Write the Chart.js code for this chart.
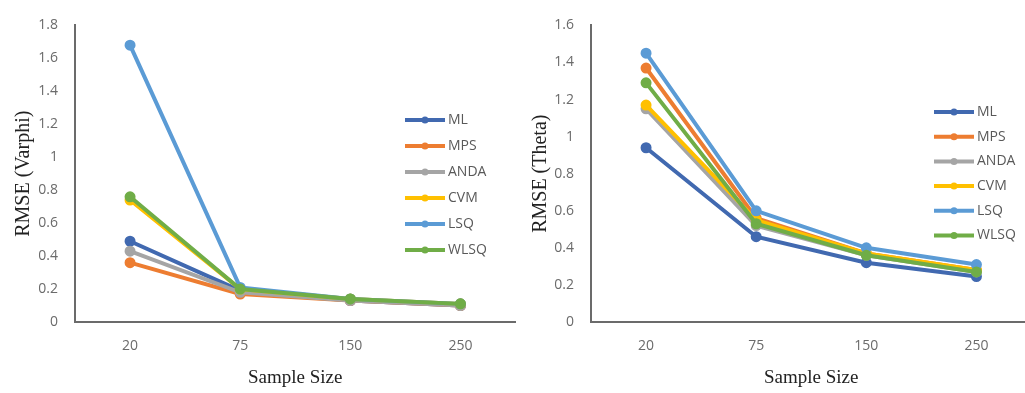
<!DOCTYPE html>
<html>
<head>
<meta charset="utf-8">
<script src="https://cdn.jsdelivr.net/npm/chart.js@4.4.0/dist/chart.umd.min.js"></script>
<style>
    html, body { margin: 0; padding: 0; background: #fff; overflow: hidden; }
    body { width: 1025px; height: 393px; position: relative; }
    .chart-box { position: absolute; top: 0; height: 393px; }
    #varphiBox { left: 0; width: 523px; }
    #thetaBox { left: 512px; width: 527px; }
</style>
</head>
<body>
<div class="chart-box" id="varphiBox"><canvas id="varphiChart"></canvas></div>
<div class="chart-box" id="thetaBox"><canvas id="thetaChart"></canvas></div>
<script>
// sample sizes on the x axis, and the estimation methods (one line each)
const sampleSizes = ['20', '75', '150', '250'];
const methods = ['ML', 'MPS', 'ANDA', 'CVM', 'LSQ', 'WLSQ'];

// RMSE of varphi
const varphiML   = [0.49, 0.19, 0.13, 0.10];
const varphiMPS  = [0.36, 0.17, 0.13, 0.10];
const varphiANDA = [0.43, 0.18, 0.13, 0.10];
const varphiCVM  = [0.74, 0.20, 0.14, 0.11];
const varphiLSQ  = [1.68, 0.21, 0.14, 0.11];
const varphiWLSQ = [0.76, 0.20, 0.14, 0.11];

// RMSE of theta
const thetaML   = [0.94, 0.46, 0.32, 0.245];
const thetaMPS  = [1.37, 0.56, 0.37, 0.28];
const thetaANDA = [1.15, 0.52, 0.36, 0.27];
const thetaCVM  = [1.17, 0.55, 0.37, 0.28];
const thetaLSQ  = [1.45, 0.60, 0.40, 0.31];
const thetaWLSQ = [1.29, 0.53, 0.36, 0.27];

const methodColors = ['#4169b0', '#ed7d31', '#a5a5a5', '#ffc000', '#5b9bd5', '#70ad47'];

// legend drawn inside the plot area, like the Excel original
const sideLegend = {
    id: 'sideLegend',
    afterDatasetsDraw(chart, args, opts) {
        const ctx = chart.ctx;
        ctx.save();
        chart.data.datasets.forEach((ds, i) => {
            const y = opts.y + i * opts.step;
            ctx.strokeStyle = ds.borderColor;
            ctx.lineWidth = 4;
            ctx.beginPath();
            ctx.moveTo(opts.x, y);
            ctx.lineTo(opts.x + 40, y);
            ctx.stroke();
            ctx.fillStyle = ds.borderColor;
            ctx.beginPath();
            ctx.arc(opts.x + 20, y, 3.5, 0, Math.PI * 2);
            ctx.fill();
            ctx.fillStyle = '#595959';
            ctx.font = '14px "Open Sans", sans-serif';
            ctx.textBaseline = 'middle';
            ctx.textAlign = 'left';
            ctx.fillText(ds.label, opts.x + 43, y);
        });
        ctx.restore();
    }
};

function createChart(chartId, series, yMax, yTitle, axisWidth, titlePad, legendPos) {
    const ctx = document.getElementById(chartId).getContext('2d');
    new Chart(ctx, {
        type: 'line',
        data: {
            labels: sampleSizes,
            datasets: methods.map((name, i) => ({
                label: name,
                data: series[i],
                borderColor: methodColors[i],
                backgroundColor: methodColors[i],
                borderWidth: 4,
                pointRadius: 3.5,
                pointHoverRadius: 3.5,
                tension: 0,
                order: methods.length - i
            }))
        },
        options: {
            responsive: true,
            maintainAspectRatio: false,
            animation: false,
            layout: { padding: { top: 16, left: 0, right: 0, bottom: 0 } },
            plugins: {
                legend: { display: false },
                tooltip: { enabled: false },
                sideLegend: legendPos
            },
            scales: {
                x: {
                    offset: true,
                    grid: { display: false, drawTicks: false },
                    border: { display: true, color: '#6b6b6b', width: 2 },
                    ticks: { color: '#6b6b6b', font: { family: '"Open Sans", sans-serif', size: 14 }, padding: 16 },
                    title: {
                        display: true,
                        text: 'Sample Size',
                        color: '#222',
                        font: { family: '"Liberation Serif", serif', size: 19 },
                        padding: { top: 4, bottom: 4 }
                    },
                    afterFit(scale) { scale.height = 71; }
                },
                y: {
                    min: 0,
                    max: yMax,
                    grid: { display: false, drawTicks: false },
                    border: { display: true, color: '#6b6b6b', width: 2 },
                    ticks: {
                        stepSize: 0.2,
                        color: '#6b6b6b',
                        font: { family: '"Open Sans", sans-serif', size: 14 },
                        padding: 17,
                        callback: value => String(Number(value.toFixed(1)))
                    },
                    title: {
                        display: true,
                        text: yTitle,
                        color: '#222',
                        font: { family: '"Liberation Serif", serif', size: 20 },
                        padding: { top: titlePad, bottom: 4 }
                    },
                    afterFit(scale) { scale.width = axisWidth; }
                }
            }
        },
        plugins: [sideLegend]
    });
}

createChart('varphiChart',
    [varphiML, varphiMPS, varphiANDA, varphiCVM, varphiLSQ, varphiWLSQ],
    1.8, 'RMSE (Varphi)', 75, 12, { x: 405, y: 120, step: 26 });
createChart('thetaChart',
    [thetaML, thetaMPS, thetaANDA, thetaCVM, thetaLSQ, thetaWLSQ],
    1.6, 'RMSE (Theta)', 79, 17, { x: 422, y: 112, step: 24.7 });
</script>
</body>
</html>
